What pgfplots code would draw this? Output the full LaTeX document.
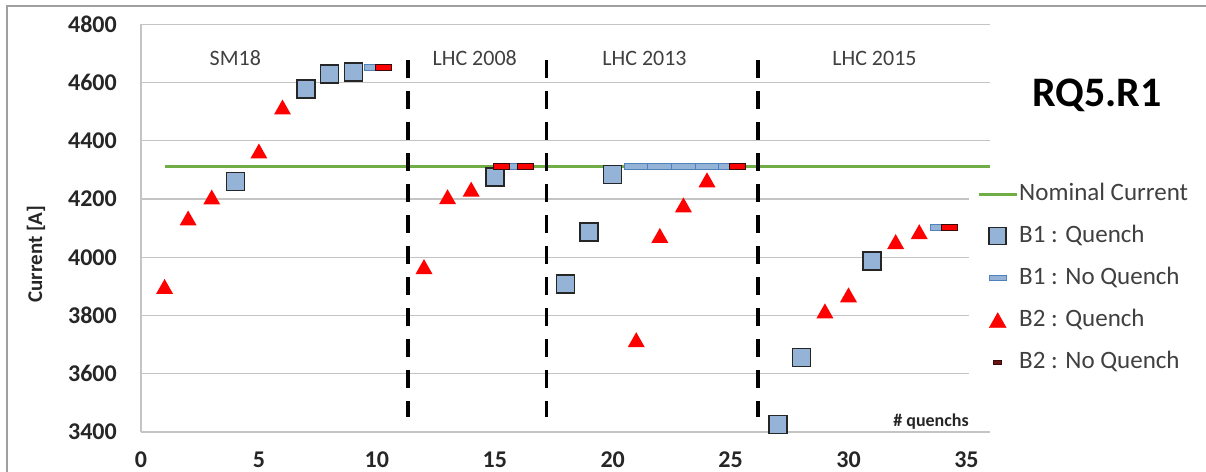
\documentclass[border=0pt]{standalone}
\usepackage{pgfplots}
\pgfplotsset{compat=1.18}
\usepackage{fontspec}
\setmainfont{Carlito}

\definecolor{nomgreen}{HTML}{70AD47}
\definecolor{bluefill}{HTML}{95B3D7}
\definecolor{blueedge}{HTML}{4F81BD}
\definecolor{gridgray}{HTML}{C4C4C4}
\definecolor{framegray}{HTML}{A0A0A0}
\definecolor{textdark}{HTML}{262626}
\definecolor{labelgray}{HTML}{404040}
\definecolor{darkred}{HTML}{6B1414}
\definecolor{rededge}{HTML}{3A0A0A}

% triangle centred on its point
\pgfdeclareplotmark{ctri}{%
  \pgfpathmoveto{\pgfqpoint{0pt}{0.88\pgfplotmarksize}}%
  \pgfpathlineto{\pgfqpoint{\pgfplotmarksize}{-0.88\pgfplotmarksize}}%
  \pgfpathlineto{\pgfqpoint{-\pgfplotmarksize}{-0.88\pgfplotmarksize}}%
  \pgfpathclose\pgfusepathqfill}
% short bars for the "no quench" points
\pgfdeclareplotmark{bdash}{%
  \pgfpathrectangle{\pgfqpoint{-12bp}{-3bp}}{\pgfqpoint{24bp}{6bp}}\pgfusepathqfillstroke}
\pgfdeclareplotmark{rdash}{%
  \pgfpathrectangle{\pgfqpoint{-8bp}{-3bp}}{\pgfqpoint{16bp}{6bp}}\pgfusepathqfillstroke}

\begin{document}
\begin{tikzpicture}
\useasboundingbox (0,0) rectangle (1206bp,472bp);
\draw[framegray, line width=1.5bp] (7bp,-2bp) -- (7bp,466bp) -- (1210bp,466bp);
\begin{axis}[
  at={(141bp,40bp)}, anchor=south west,
  width=849bp, height=407.7bp, scale only axis,
  xmin=0, xmax=36, ymin=3400, ymax=4800,
  xtick={0,5,...,35}, ytick={3400,3600,...,4800},
  axis x line*=bottom, axis y line*=left,
  axis line style={gridgray, line width=1.2bp},
  ymajorgrids, major grid style={gridgray, line width=1.2bp},
  major tick length=0pt,
  tick label style={font=\fontsize{24bp}{28bp}\selectfont\bfseries, text=textdark},
  /pgf/number format/assume math mode=true,
  /pgf/number format/set thousands separator={},
  yticklabel style={anchor=east, inner sep=0pt, xshift=-24bp},
  xticklabel style={anchor=center, inner sep=0pt, yshift=-27.5bp},
  clip=false,
  legend cell align=left,
  legend style={draw=none, fill=white, at={(0.9753,0.6328)}, anchor=north west,
    inner xsep=8bp, inner ysep=8bp, row sep=18bp, column sep=1bp,
    font=\fontsize{25bp}{30bp}\selectfont, text=labelgray,
    nodes={inner sep=0pt, text height=18bp, text depth=6bp}},
]
% nominal current
\addplot[nomgreen, line width=3bp,
  legend image code/.code={\path[draw=none, fill=none] (0bp,-8bp) rectangle (38bp,8bp);
    \draw[nomgreen, line width=3bp] (0bp,0bp) -- (38bp,0bp);}]
  coordinates {(1,4310) (36,4310)};
\addlegendentry{Nominal Current}

% campaign separators
\addplot[black, line width=3.5bp, dash pattern=on 17.7bp off 13.3bp, forget plot]
  coordinates {(11.33,4677) (11.33,3453)};
\addplot[black, line width=3.5bp, dash pattern=on 17.7bp off 13.3bp, forget plot]
  coordinates {(17.19,4677) (17.19,3453)};
\addplot[black, line width=3.5bp, dash pattern=on 17.7bp off 13.3bp, forget plot]
  coordinates {(26.16,4677) (26.16,3453)};

% B1 quenches
\addplot[only marks, mark=square*, mark size=9bp,
  mark options={fill=bluefill, draw=textdark, line width=1.5bp},
  legend image code/.code={\path[draw=none, fill=none] (0bp,-8bp) rectangle (38bp,8bp);
    \draw[draw=textdark, fill=bluefill, line width=1.5bp] (10.5bp,-8.5bp) rectangle (27.5bp,8.5bp);}]
  coordinates {(4,4260) (7,4578) (8,4629) (9,4636) (15,4276) (18,3908) (19,4087)
               (20,4284) (27,3425) (28,3655) (31,3988)};
\addlegendentry{B1 : Quench}

% B1 reached without quench
\addplot[only marks, mark=bdash,
  mark options={fill=bluefill, draw=blueedge, line width=1bp},
  legend image code/.code={\path[draw=none, fill=none] (0bp,-8bp) rectangle (38bp,8bp);
    \draw[draw=blueedge, fill=bluefill, line width=1bp] (10.5bp,-2.5bp) rectangle (27.5bp,2.5bp);}]
  coordinates {(10,4650) (16,4310) (21,4310) (22,4310) (23,4310) (24,4310)
               (25,4310) (34,4102)};
\addlegendentry{B1 : No Quench}

% B2 quenches
\addplot[only marks, mark=ctri, mark size=8.5bp, mark options={fill=red},
  legend image code/.code={\path[draw=none, fill=none] (0bp,-8bp) rectangle (38bp,8bp);
    \fill[red] (19bp,7.5bp) -- (27.5bp,-7.5bp) -- (10.5bp,-7.5bp) -- cycle;}]
  coordinates {(1,3900) (2,4135) (3,4207) (5,4365) (6,4516) (12,3968) (13,4208)
               (14,4234) (21,3717) (22,4075) (23,4180) (24,4266) (29,3816)
               (30,3871) (32,4054) (33,4088)};
\addlegendentry{B2 : Quench}

% B2 reached without quench
\addplot[only marks, mark=rdash,
  mark options={fill=red, draw=rededge, line width=1bp},
  legend image code/.code={\path[draw=none, fill=none] (0bp,-8bp) rectangle (38bp,8bp);
    \draw[draw=rededge, fill=darkred, line width=0.8bp] (15bp,-2bp) rectangle (23bp,2bp);}]
  coordinates {(10.3,4650) (15.3,4310) (16.3,4310) (25.3,4310) (34.3,4102)};
\addlegendentry{B2 : No Quench}

% campaign names and annotations
\node[font=\fontsize{22bp}{26bp}\selectfont, text=labelgray] at (axis cs:4.0,4684) {SM18};
\node[font=\fontsize{22bp}{26bp}\selectfont, text=labelgray] at (axis cs:14.15,4684) {LHC 2008};
\node[font=\fontsize{22bp}{26bp}\selectfont, text=labelgray] at (axis cs:21.35,4684) {LHC 2013};
\node[font=\fontsize{22bp}{26bp}\selectfont, text=labelgray] at (axis cs:31.1,4684) {LHC 2015};
\node[font=\fontsize{42bp}{48bp}\selectfont\bfseries, text=black] at (rel axis cs:1.126,0.8266) {RQ5.R1};
\node[font=\fontsize{18bp}{22bp}\selectfont\bfseries, text=textdark] at (axis cs:33.5,3435) {\# quenchs};
\node[rotate=90, font=\fontsize{21bp}{25bp}\selectfont\bfseries, text=textdark]
  at (rel axis cs:-0.1237,0.4366) {Current [A]};
\end{axis}
\end{tikzpicture}
\end{document}
